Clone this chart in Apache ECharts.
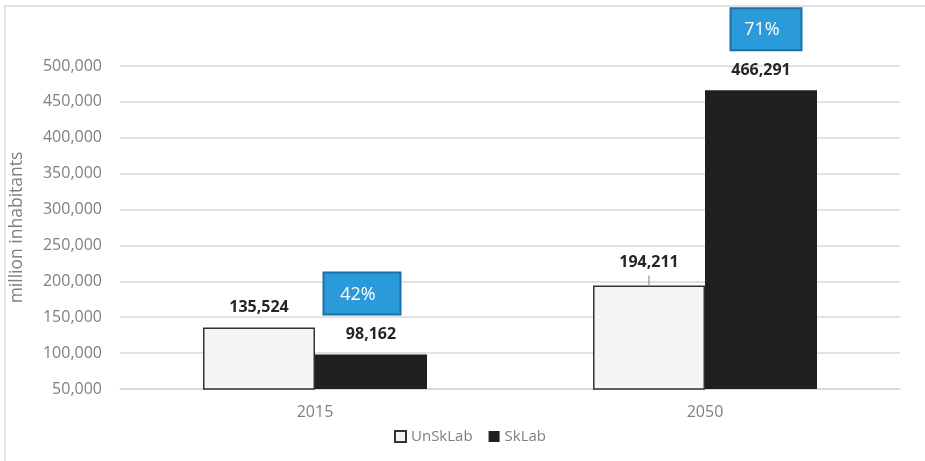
<!DOCTYPE html>
<html>
<head>
<meta charset="utf-8">
<script src="https://cdn.jsdelivr.net/npm/echarts@6/dist/echarts.min.js"></script>
<style>
  html, body { margin: 0; padding: 0; background: #fff; }
  #chart { width: 925px; height: 461px; }
</style>
</head>
<body>
<div id="chart"></div>
<script>
// Population by skill level, 2015 vs 2050
const years = ['2015', '2050'];
const unSkLab = [135524, 194211];
const skLab = [98162, 466291];
const seriesNames = ['UnSkLab', 'SkLab'];
const yTicks = { min: 50000, max: 500000, step: 50000 };

const FONT = '"Open Sans", "Liberation Sans", sans-serif';
const fmt = v => v.toLocaleString('en-US');

const chart = echarts.init(document.getElementById('chart'), null, { renderer: 'canvas' });

const labelBase = {
  show: true,
  position: 'top',
  distance: 12,
  fontFamily: FONT,
  fontSize: 16,
  fontWeight: 'bold',
  color: '#262626',
  formatter: p => fmt(p.value)
};

const option = {
  animation: false,
  backgroundColor: '#ffffff',
  textStyle: { fontFamily: FONT },
  grid: { left: 118, right: 25, top: 66, bottom: 72, containLabel: false },
  legend: {
    data: seriesNames,
    left: 389,
    top: 424,
    icon: 'rect',
    itemWidth: 11,
    itemHeight: 11,
    itemGap: 16,
    textStyle: { fontFamily: FONT, fontSize: 15, color: '#7f7f7f' }
  },
  xAxis: {
    type: 'category',
    data: years,
    axisTick: { show: false },
    axisLine: { lineStyle: { color: '#d9d9d9', width: 1.5 } },
    axisLabel: { margin: 15, fontFamily: FONT, fontSize: 16, color: '#7f7f7f' }
  },
  yAxis: {
    type: 'value',
    min: yTicks.min,
    max: yTicks.max,
    interval: yTicks.step,
    name: 'million inhabitants',
    nameLocation: 'middle',
    nameGap: 94,
    nameTextStyle: { fontFamily: FONT, fontSize: 17.5, color: '#7f7f7f' },
    axisLine: { show: false },
    axisTick: { show: false },
    axisLabel: { margin: 18, fontFamily: FONT, fontSize: 16, color: '#7f7f7f', formatter: v => fmt(v) },
    splitLine: { lineStyle: { color: '#d9d9d9', width: 1.5 } }
  },
  series: [
    {
      name: seriesNames[0],
      type: 'bar',
      barWidth: 112,
      barGap: '0%',
      data: unSkLab.map((v, i) => i === 1
        ? { value: v, label: { distance: 15 } }
        : { value: v }),
      itemStyle: { color: '#f5f5f5', borderColor: '#333333', borderWidth: 1.5 },
      label: labelBase
    },
    {
      name: seriesNames[1],
      type: 'bar',
      barWidth: 112,
      barGap: '0%',
      data: skLab,
      itemStyle: { color: '#1f1f1d', borderColor: '#1f1f1d', borderWidth: 0 },
      label: labelBase
    }
  ]
};

chart.setOption(option);

// Annotations computed from the laid-out bars
function barLayout(seriesIndex, dataIndex) {
  const data = chart.getModel().getSeriesByIndex(seriesIndex).getData();
  return data.getItemLayout(dataIndex);
}

const shareBoxes = { width: [77, 71], height: 42, dx: [-9, 5], gap: 40 };
const graphics = [
  // outer frame of the chart area
  {
    type: 'rect',
    shape: { x: 5, y: 6, width: 940, height: 480 },
    style: { fill: 'none', stroke: '#d9d9d9', lineWidth: 1.5 },
    silent: true,
    z: 0
  }
];

years.forEach((y, i) => {
  const L = barLayout(1, i);
  const cx = L.x + L.width / 2;
  const top = Math.min(L.y, L.y + L.height);
  const share = Math.round(100 * skLab[i] / (skLab[i] + unSkLab[i]));
  const w = shareBoxes.width[i];
  const h = shareBoxes.height;
  const bx = cx + shareBoxes.dx[i] - w / 2;
  const by = top - shareBoxes.gap - h;
  graphics.push({
    type: 'group',
    z: 100,
    children: [
      {
        type: 'rect',
        shape: { x: bx, y: by, width: w, height: h },
        style: { fill: '#2a9bd8', stroke: '#1a70a6', lineWidth: 2 }
      },
      {
        type: 'text',
        x: bx + w / 2 - 4,
        y: by + h / 2 + 1,
        style: {
          text: share + '%',
          fill: '#ffffff',
          font: '18px ' + FONT,
          textAlign: 'center',
          textVerticalAlign: 'middle'
        }
      }
    ]
  });
});

// short leader tick above the 2050 UnSkLab bar
(function () {
  const L = barLayout(0, 1);
  const cx = L.x + L.width / 2;
  const top = Math.min(L.y, L.y + L.height);
  graphics.push({
    type: 'line',
    shape: { x1: cx, y1: top - 10, x2: cx, y2: top },
    style: { stroke: '#a6a6a6', lineWidth: 1.5 },
    z: 100
  });
})();

chart.setOption({ graphic: graphics });
</script>
</body>
</html>
